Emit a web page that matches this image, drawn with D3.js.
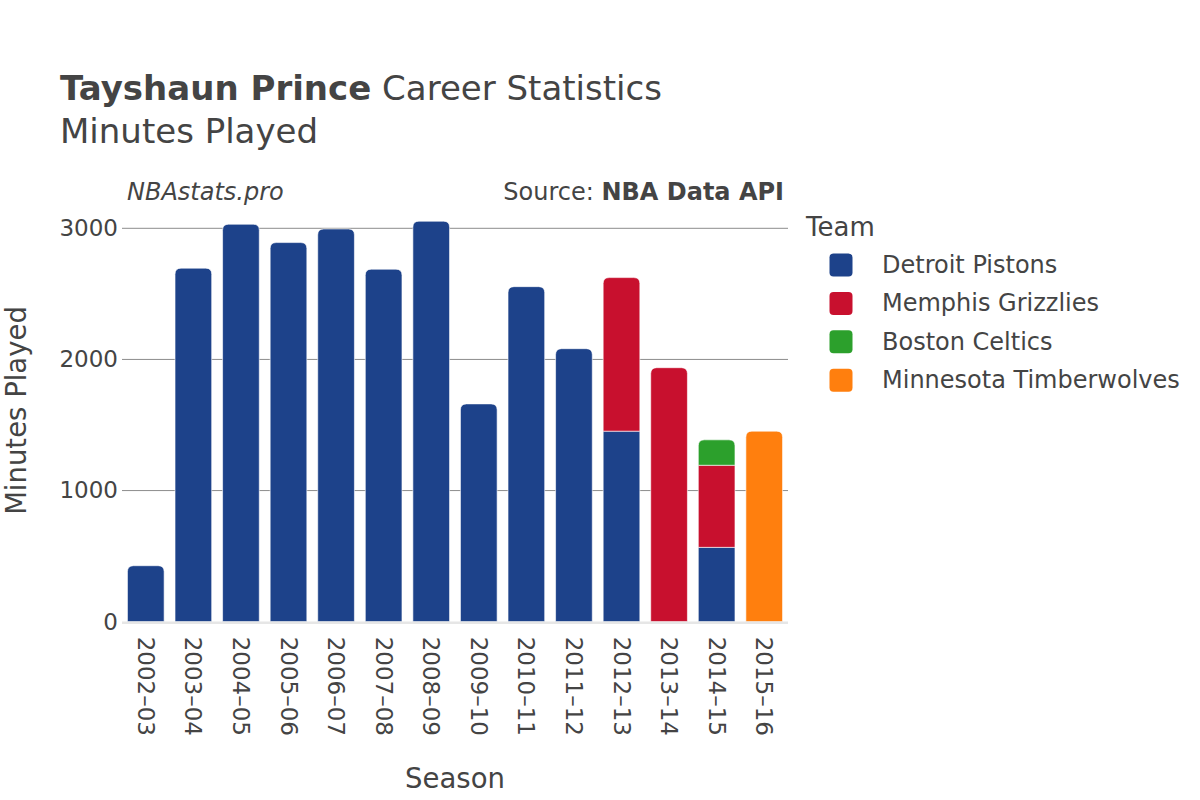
<!DOCTYPE html>
<html>
<head>
<meta charset="utf-8">
<script src="https://cdn.jsdelivr.net/npm/d3@7"></script>
<style>
  body { margin: 0; background: #fff; }
  svg { display: block; font-family: "DejaVu Sans", sans-serif; }
</style>
</head>
<body>
<svg id="chart" width="1200" height="800"></svg>
<script>
const seasons = ["2002–03","2003–04","2004–05","2005–06","2006–07","2007–08","2008–09","2009–10","2010–11","2011–12","2012–13","2013–14","2014–15","2015–16"];
const teams = ["Detroit Pistons","Memphis Grizzlies","Boston Celtics","Minnesota Timberwolves"];
const teamColors = ["#1d428a","#c8102e","#2ca02c","#ff7f0e"];
const detroit   = [427, 2696, 3031, 2891, 2995, 2688, 3054, 1661, 2555, 2082, 1453, 0, 567, 0];
const memphis   = [0, 0, 0, 0, 0, 0, 0, 0, 0, 0, 1171, 1937, 626, 0];
const boston    = [0, 0, 0, 0, 0, 0, 0, 0, 0, 0, 0, 0, 194, 0];
const minnesota = [0, 0, 0, 0, 0, 0, 0, 0, 0, 0, 0, 0, 0, 1453];
const yTicks = [0, 1000, 2000, 3000];

const seriesValues = [detroit, memphis, boston, minnesota];
const rows = seasons.map((s, i) => {
  const r = { season: s };
  teams.forEach((t, k) => r[t] = seriesValues[k][i]);
  return r;
});

const svg = d3.select("#chart");
const left = 122, right = 788, y0 = 621.7, y3000 = 228.3;

const x = d3.scaleBand().domain(seasons).range([left, right]).paddingInner(0.229).paddingOuter(0.1145);
const y = d3.scaleLinear().domain([0, 3000]).range([y0, y3000]);
const color = d3.scaleOrdinal().domain(teams).range(teamColors);

const textColor = "#444";

// Title
const title = svg.append("text").attr("x", 60).attr("y", 100).attr("fill", textColor).style("font-size", "34px");
title.append("tspan").attr("font-weight", "bold").text("Tayshaun Prince");
title.append("tspan").text(" Career Statistics");
svg.append("text").attr("x", 60).attr("y", 143).attr("fill", textColor).style("font-size", "34px").text("Minutes Played");

// Annotations
svg.append("text").attr("x", 127).attr("y", 200).attr("fill", textColor).style("font-size", "24px").style("font-style", "italic").text("NBAstats.pro");
const src = svg.append("text").attr("x", 784).attr("y", 200).attr("text-anchor", "end").attr("fill", textColor).style("font-size", "24px");
src.append("tspan").text("Source: ");
src.append("tspan").attr("font-weight", "bold").text("NBA Data API");

// Gridlines
svg.append("g").selectAll("line").data(yTicks.filter(d => d !== 0)).join("line")
  .attr("x1", left).attr("x2", right)
  .attr("y1", d => y(d)).attr("y2", d => y(d))
  .attr("stroke", "#8c8c8c").attr("stroke-width", 1);

// Y axis labels
const yAxis = svg.append("g").attr("transform", `translate(${left},0)`)
  .call(d3.axisLeft(y).tickValues(yTicks).tickSize(0).tickPadding(4).tickFormat(d3.format("d")));
yAxis.select(".domain").remove();
yAxis.selectAll("text").attr("fill", textColor).style("font-size", "23px").style("font-family", "DejaVu Sans");

// Bars
const stack = d3.stack().keys(teams);
const stacked = stack(rows);
const topKey = {};
rows.forEach(r => {
  let t = null;
  teams.forEach(k => { if (r[k] > 0) t = k; });
  topKey[r.season] = t;
});

function barPath(x0, yTop, w, yBot, r) {
  r = Math.min(r, (yBot - yTop), w / 2);
  return `M${x0},${yBot}V${yTop + r}Q${x0},${yTop} ${x0 + r},${yTop}H${x0 + w - r}Q${x0 + w},${yTop} ${x0 + w},${yTop + r}V${yBot}Z`;
}

const barsG = svg.append("g");
stacked.forEach(layer => {
  barsG.append("g").selectAll("path")
    .data(layer.filter(d => d[1] - d[0] > 0))
    .join("path")
    .attr("d", d => {
      const s = d.data.season;
      const xx = x(s), w = x.bandwidth();
      const yt = y(d[1]), yb = y(d[0]);
      const r = topKey[s] === layer.key ? 6 : 0;
      return barPath(xx, yt, w, yb, r);
    })
    .attr("fill", color(layer.key))
    .attr("stroke", "#fff").attr("stroke-opacity", 0.6).attr("stroke-width", 1);
});

// Zero line
svg.append("line").attr("x1", left).attr("x2", right).attr("y1", y0 + 1).attr("y2", y0 + 1)
  .attr("stroke", "#e6e6e6").attr("stroke-width", 2.5);

// X axis labels
const xAxis = svg.append("g").attr("transform", `translate(0,${y0})`)
  .call(d3.axisBottom(x).tickSize(0).tickPadding(0));
xAxis.select(".domain").remove();
xAxis.selectAll("text")
  .attr("fill", textColor).style("font-size", "23px").style("font-family", "DejaVu Sans")
  .attr("text-anchor", "start").attr("dy", null).attr("y", 0)
  .attr("dominant-baseline", "central")
  .attr("transform", "translate(0,15) rotate(90)");

// Axis titles
svg.append("text").attr("x", (left + right) / 2).attr("y", 788).attr("text-anchor", "middle")
  .attr("fill", textColor).style("font-size", "27.5px").text("Season");
svg.append("text").attr("transform", `translate(26,410.5) rotate(-90)`).attr("text-anchor", "middle")
  .attr("fill", textColor).style("font-size", "27.5px").text("Minutes Played");

// Legend
const lg = svg.append("g");
lg.append("text").attr("x", 806).attr("y", 236).attr("fill", textColor).style("font-size", "26px").text("Team");
const items = lg.selectAll("g.item").data(teams).join("g").attr("class", "item")
  .attr("transform", (d, i) => `translate(0,${265 + i * 38.4})`);
items.append("rect").attr("x", 829.5).attr("y", -11.5).attr("width", 23).attr("height", 23).attr("rx", 4)
  .attr("fill", d => color(d));
items.append("text").attr("x", 882).attr("y", 0).attr("dominant-baseline", "central")
  .attr("fill", textColor).style("font-size", "24px").text(d => d);
</script>
</body>
</html>
